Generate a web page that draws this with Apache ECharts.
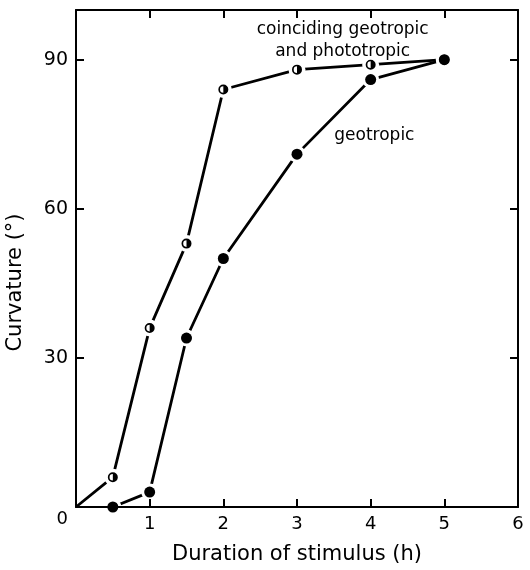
<!DOCTYPE html>
<html>
<head>
<meta charset="utf-8">
<script src="https://cdn.jsdelivr.net/npm/echarts@6/dist/echarts.min.js"></script>
<style>
  html, body { margin: 0; padding: 0; background: #fff; }
  #chart { width: 530px; height: 570px; }
</style>
</head>
<body>
<div id="chart"></div>
<script>
// Stimulus duration (h) and curvature (degrees)
const coincidingHours = [0, 0.5, 1, 1.5, 2, 3, 4, 5];
const coincidingCurvature = [0, 6, 36, 53, 84, 88, 89, 90];
const geotropicHours = [0.5, 1, 1.5, 2, 3, 4, 5];
const geotropicCurvature = [0, 3, 34, 50, 71, 86, 90];
const xTicks = [0, 1, 2, 3, 4, 5, 6];
const yTicks = [0, 30, 60, 90];

const FONT = 'DejaVu Sans';
const INK = '#000';

const pairs = (xs, ys) => xs.map((x, i) => [x, ys[i]]);
const coinciding = pairs(coincidingHours, coincidingCurvature);
const geotropic = pairs(geotropicHours, geotropicCurvature);
// points that carry a marker (the origin is the bare start of the line)
const coincidingMarked = coinciding.filter(p => p[0] > 0);

// circle whose right half is solid and left half open
const HALF_DOT = 'path://M0,-10A10,10,0,0,1,0,10A10,10,0,0,1,0,-10Z' +
  'M0,-6.6A6.6,6.6,0,0,0,0,6.6Z';

const chart = echarts.init(document.getElementById('chart'));

const tickStyle = () => ({ show: true, inside: true, length: 8, lineStyle: { color: INK, width: 2 } });
const lineAxis = () => ({ show: true, onZero: false, lineStyle: { color: INK, width: 2 } });

const option = {
  backgroundColor: '#fff',
  animation: false,
  grid: { left: 76, right: 12, top: 10, bottom: 63, containLabel: false, outerBoundsMode: 'none' },
  xAxis: [
    {
      type: 'value', position: 'bottom', min: xTicks[0], max: xTicks[xTicks.length - 1], interval: 1,
      z: 5,
      axisLine: lineAxis(), axisTick: tickStyle(), splitLine: { show: false },
      axisLabel: {
        margin: 8, color: INK, fontFamily: FONT, fontSize: 18,
        formatter: v => (v === 0 ? '' : String(v))
      },
      name: 'Duration of stimulus (h)', nameLocation: 'middle', nameGap: 37,
      nameTextStyle: { color: INK, fontFamily: FONT, fontSize: 21 }
    },
    {
      type: 'value', position: 'top', min: xTicks[0], max: xTicks[xTicks.length - 1], interval: 1,
      z: 5,
      axisLine: lineAxis(), axisTick: tickStyle(), splitLine: { show: false },
      axisLabel: { show: false }
    }
  ],
  yAxis: [
    {
      type: 'value', position: 'left', min: 0, max: 100, interval: 30,
      z: 5,
      axisLine: lineAxis(), axisTick: tickStyle(), splitLine: { show: false },
      axisLabel: {
        margin: 8, color: INK, fontFamily: FONT, fontSize: 19,
        showMaxLabel: false,
        formatter: v => (yTicks.indexOf(v) < 0 ? '' : (v === 0 ? '{z|0}' : String(v))),
        rich: { z: { padding: [24, 0, 0, 0], fontFamily: FONT, fontSize: 18, color: INK } }
      },
      name: 'Curvature (°)', nameLocation: 'middle', nameGap: 50,
      nameTextStyle: { color: INK, fontFamily: FONT, fontSize: 21, padding: [0, 48, 0, 0] }
    },
    {
      type: 'value', position: 'right', min: 0, max: 100, interval: 30,
      z: 5,
      axisLine: lineAxis(), axisTick: tickStyle(), splitLine: { show: false },
      axisLabel: { show: false }
    }
  ],
  series: [
    {
      name: 'coinciding geotropic and phototropic', type: 'line', data: coinciding,
      symbol: 'none', z: 2, lineStyle: { color: INK, width: 2.8 }
    },
    {
      name: 'geotropic', type: 'line', data: geotropic,
      symbol: 'none', z: 2, lineStyle: { color: INK, width: 2.8 }
    },
    // white clearance around every marker so the lines stop short of it
    {
      type: 'scatter', data: coincidingMarked.concat(geotropic), z: 3,
      symbol: 'circle', symbolSize: 17, itemStyle: { color: '#fff', opacity: 1 }, silent: true
    },
    {
      type: 'scatter', data: coincidingMarked, z: 4,
      symbol: HALF_DOT, symbolSize: 10, itemStyle: { color: INK, opacity: 1 }
    },
    {
      type: 'scatter', data: geotropic, z: 4,
      symbol: 'circle', symbolSize: 11, itemStyle: { color: INK, opacity: 1 }
    }
  ]
};

chart.setOption(option);

// curve annotations, anchored in data coordinates
const notes = [
  { text: 'coinciding geotropic\nand phototropic', at: [3.62, 93.8] },
  { text: 'geotropic', at: [4.05, 74.8] }
];
chart.setOption({
  graphic: notes.map(n => {
    const p = chart.convertToPixel({ gridIndex: 0 }, n.at);
    return {
      type: 'text', x: p[0], y: p[1], z: 10,
      style: {
        text: n.text, fill: INK, font: '17px "' + FONT + '"',
        align: 'center', verticalAlign: 'middle', lineHeight: 22
      }
    };
  })
});
</script>
</body>
</html>
